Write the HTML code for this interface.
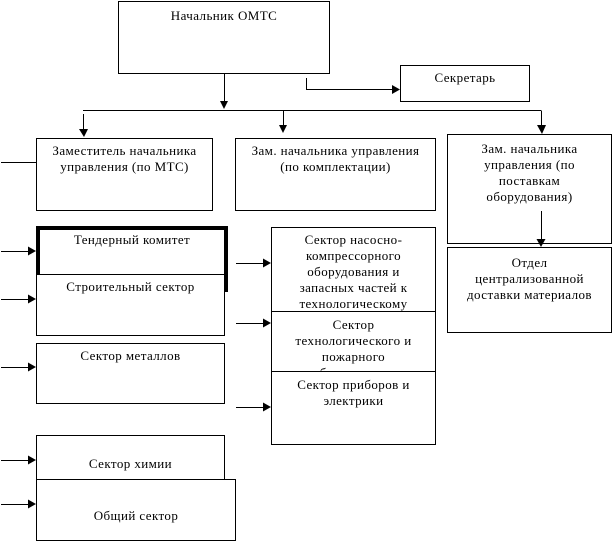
<!DOCTYPE html>
<html><head><meta charset="utf-8"><style>
html,body{margin:0;padding:0;background:#fff}
#p{position:relative;width:612px;height:541px;overflow:hidden;background:#fff;font-family:"Liberation Serif",serif;font-size:13px;line-height:16px;color:#000}
.b{position:absolute;box-sizing:border-box;border:1px solid #000;background:#fff;text-align:center;overflow:hidden;letter-spacing:.42px}
svg{position:absolute;left:0;top:0;z-index:5}
</style></head><body><div id="p">
<div class="b" style="left:118px;top:1px;width:212px;height:73px;padding-top:6px">Начальник ОМТС</div>
<div class="b" style="left:400px;top:65px;width:130px;height:37px;padding-top:4px">Секретарь</div>
<div class="b" style="left:36px;top:138px;width:177px;height:73px;padding:4px 8px 0">Заместитель начальника управления (по МТС)</div>
<div class="b" style="left:235px;top:138px;width:201px;height:73px;padding:4px 8px 0">Зам. начальника управления (по комплектации)</div>
<div class="b" style="left:447px;top:134px;width:165px;height:110px;padding:6px 24px 0">Зам. начальника управления (по поставкам оборудования)</div>
<div class="b" style="left:447px;top:247px;width:165px;height:86px;padding:7px 8px 0">Отдел<br>централизованной доставки материалов</div>
<div class="b" style="left:36px;top:226px;width:192px;height:66px;border-width:4px;padding-top:2px;">Тендерный комитет</div>
<div class="b" style="left:36px;top:274px;width:189px;height:62px;padding-top:4px">Строительный сектор</div>
<div class="b" style="left:36px;top:343px;width:189px;height:61px;padding-top:4px">Сектор металлов</div>
<div class="b" style="left:36px;top:435px;width:189px;height:50px;padding-top:20px">Сектор химии</div>
<div class="b" style="left:36px;top:479px;width:200px;height:62px;padding-top:28px">Общий сектор</div>
<div class="b" style="left:271px;top:227px;width:165px;height:90px;padding:4px 14px 0">Сектор насосно-компрессорного оборудования и запасных частей к технологическому</div>
<div class="b" style="left:271px;top:311px;width:165px;height:70px;padding:5px 10px 0">Сектор<br>технологического и пожарного оборудования</div>
<div class="b" style="left:271px;top:371px;width:165px;height:74px;padding:5px 14px 0">Сектор приборов и электрики</div>
<svg width="612" height="541" fill="#000" stroke="none">
<g stroke="#000" stroke-width="1" fill="none" shape-rendering="crispEdges">
<path d="M224.500 74V102M83 110.500H541.500M83.500 114V131M283.500 111V127M541.500 111V127M541.500 211V240M306.500 78V89.500H392M1 162.500H36"/>
<path d="M1 251.500H29M1 299.500H29M1 367.500H29M1 460.500H29M1 504.500H29M236 263.500H264M236 323.500H264M236 407.500H264"/>
</g>
<path d="M220 101h8l-4 8zM79 129h9l-4 8zM279 125h8l-4 8zM537 125h9l-4 9zM536.500 239h9l-4.500 8zM392 85v9l8-4.500zM28 246.500v9l8-4.500zM28 294.500v9l8-4.500zM28 362.500v9l8-4.500zM28 455.500v9l8-4.500zM28 499.500v9l8-4.500zM263 258.500v9l8-4.500zM263 318.500v9l8-4.500zM263 402.500v9l8-4.500z"/>
</svg>
</div></body></html>
